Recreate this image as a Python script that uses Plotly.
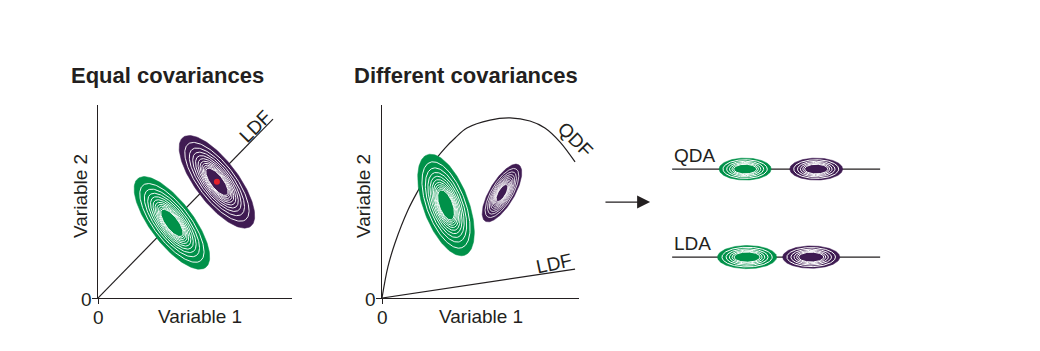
import numpy as np
import plotly.graph_objects as go

W, H = 1040, 351

# ---------------- data ----------------
# Panel A: equal covariances (axis units 0-10)
ldf_a_x = [0, 9.02]
ldf_a_y = [0, 9.27]
ell_a_cx = [3.81, 6.13]
ell_a_cy = [3.89, 6.02]
ell_a_major = [2.89, 2.89]
ell_a_minor = [1.10, 1.10]
ell_a_angle = [-53, -53]
red_dot_x = [6.13]
red_dot_y = [6.02]

# Panel B: different covariances
qdf_x = [0, 0.30, 0.66, 1.32, 1.93, 2.59, 3.20, 3.71, 4.31, 5.48, 6.50, 7.51, 8.27, 9.04, 9.80]
qdf_y = [0, 1.61, 2.85, 4.56, 5.75, 6.99, 7.77, 8.29, 8.81, 9.22, 9.33, 9.17, 8.81, 8.08, 7.05]
ldf_b_x = [0, 9.80]
ldf_b_y = [0, 1.50]
ell_b_cx = [3.25, 6.09]
ell_b_cy = [4.82, 5.44]
ell_b_major = [2.77, 1.69]
ell_b_minor = [1.15, 0.63]
ell_b_angle = [-70, 60]

# Panel C: schematic
row_labels = ["QDA", "LDA"]
row_y = [6.68, 2.12]
row_line_x = [4.15, 14.92]
small_cx = [[7.93, 11.61], [8.03, 11.35]]
small_rx = [[1.35, 1.37], [1.53, 1.48]]
small_ry = [[0.57, 0.57], [0.60, 0.58]]
arrow_x = [0.62, 3.01]
arrow_y = [4.97, 4.97]

GREEN = "#009149"
PURPLE = "#3f1b52"
INK = "#231f20"
RED = "#e3202b"
FONT = "Liberation Sans, Arial, sans-serif"

ring_scales = [0.85, 0.73, 0.64, 0.565, 0.50, 0.445, 0.40, 0.36, 0.325, 0.295]
core_scale = 0.24
small_ring_scales = [0.85, 0.71, 0.60, 0.51, 0.44]
small_core = (0.32, 0.28)


def ellipse(cx, cy, a, b, ang, s=1.0, n=160):
    t = np.linspace(0, 2 * np.pi, n)
    th = np.deg2rad(ang)
    x = cx + s * (a * np.cos(t) * np.cos(th) - b * np.sin(t) * np.sin(th))
    y = cy + s * (a * np.cos(t) * np.sin(th) + b * np.sin(t) * np.cos(th))
    return x, y


fig = go.Figure()


def add_line(x, y, xa, ya, shape="linear"):
    fig.add_trace(go.Scatter(x=x, y=y, mode="lines", xaxis=xa, yaxis=ya,
                             line=dict(color=INK, width=1.2, shape=shape, smoothing=1.0),
                             hoverinfo="skip", showlegend=False))


def add_contour(cx, cy, a, b, ang, color, xa, ya, lw):
    x, y = ellipse(cx, cy, a, b, ang)
    fig.add_trace(go.Scatter(x=x, y=y, mode="lines", fill="toself", fillcolor=color,
                             line=dict(color=color, width=0.5), xaxis=xa, yaxis=ya,
                             hoverinfo="skip", showlegend=False))
    for s in ring_scales:
        x, y = ellipse(cx, cy, a, b, ang, s)
        fig.add_trace(go.Scatter(x=x, y=y, mode="lines", line=dict(color="white", width=lw),
                                 xaxis=xa, yaxis=ya, hoverinfo="skip", showlegend=False))
    x, y = ellipse(cx, cy, a, b, ang, core_scale)
    fig.add_trace(go.Scatter(x=x, y=y, mode="lines", fill="toself", fillcolor=color,
                             line=dict(color=color, width=0.5), xaxis=xa, yaxis=ya,
                             hoverinfo="skip", showlegend=False))


# Panel A
add_line(ldf_a_x, ldf_a_y, "x", "y")
for cx, cy, a, b, ang, col in zip(ell_a_cx, ell_a_cy, ell_a_major, ell_a_minor, ell_a_angle, [GREEN, PURPLE]):
    add_contour(cx, cy, a, b, ang, col, "x", "y", 0.95)
fig.add_trace(go.Scatter(x=red_dot_x, y=red_dot_y, mode="markers", marker=dict(color=RED, size=6),
                         xaxis="x", yaxis="y", hoverinfo="skip", showlegend=False))

# Panel B
add_line(qdf_x, qdf_y, "x2", "y2", shape="spline")
add_line(ldf_b_x, ldf_b_y, "x2", "y2")
for cx, cy, a, b, ang, col, lw in zip(ell_b_cx, ell_b_cy, ell_b_major, ell_b_minor, ell_b_angle,
                                      [GREEN, PURPLE], [0.95, 0.8]):
    add_contour(cx, cy, a, b, ang, col, "x2", "y2", lw)

# Panel C
for ry, cxs, rxs, rys in zip(row_y, small_cx, small_rx, small_ry):
    add_line(row_line_x, [ry, ry], "x3", "y3")
    for cx, rx, rr, col in zip(cxs, rxs, rys, [GREEN, PURPLE]):
        x, y = ellipse(cx, ry, rx, rr, 0)
        fig.add_trace(go.Scatter(x=x, y=y, mode="lines", fill="toself", fillcolor=col,
                                 line=dict(color=col, width=0.5), xaxis="x3", yaxis="y3",
                                 hoverinfo="skip", showlegend=False))
        for s in small_ring_scales:
            x, y = ellipse(cx, ry, rx, rr, 0, s)
            fig.add_trace(go.Scatter(x=x, y=y, mode="lines", line=dict(color="white", width=1.0),
                                     xaxis="x3", yaxis="y3", hoverinfo="skip", showlegend=False))
        x, y = ellipse(cx, ry, rx * small_core[0], rr * small_core[1], 0)
        fig.add_trace(go.Scatter(x=x, y=y, mode="lines", fill="toself", fillcolor=col,
                                 line=dict(color=col, width=0.5), xaxis="x3", yaxis="y3",
                                 hoverinfo="skip", showlegend=False))


def px(v):
    return v / W


def py(v):
    return 1 - v / H


ydom = [py(298), py(105)]
axis_common = dict(range=[0, 10], showgrid=False, zeroline=False, showticklabels=False,
                   showline=True, linecolor=INK, linewidth=1.2, ticks="outside",
                   tickvals=[0], ticklen=5, tickcolor=INK, tickwidth=1.2, fixedrange=True)
hidden = dict(visible=False, showgrid=False, zeroline=False, fixedrange=True)

fig.update_layout(
    width=W, height=H, margin=dict(l=0, r=0, t=0, b=0),
    paper_bgcolor="white", plot_bgcolor="rgba(0,0,0,0)",
    xaxis=dict(domain=[px(98), px(292)], anchor="y", **axis_common),
    yaxis=dict(domain=ydom, anchor="x", **axis_common),
    xaxis2=dict(domain=[px(382), px(579)], anchor="y2", **axis_common),
    yaxis2=dict(domain=ydom, anchor="x2", **axis_common),
    xaxis3=dict(domain=[px(592), px(901)], anchor="y3", range=[0, 16], **hidden),
    yaxis3=dict(domain=ydom, anchor="x3", range=[0, 10], **hidden),
    font=dict(family=FONT, color=INK, size=19),
)

ann = []


def text(t, x, y, xref="paper", yref="paper", size=19, bold=False, angle=0, xanchor="center"):
    ann.append(dict(text=f"<b>{t}</b>" if bold else t, x=x, y=y, xref=xref, yref=yref,
                    showarrow=False, textangle=angle, xanchor=xanchor, yanchor="middle",
                    font=dict(family=FONT, size=size, color=INK)))


# titles
text("Equal covariances", px(69), py(76), size=22, bold=True, xanchor="left")
text("Different covariances", px(352), py(76), size=22, bold=True, xanchor="left")
# axis labels
for xc, yc in [(200, 316), (481, 316)]:
    text("Variable 1", px(xc), py(yc))
for xc in [80, 363]:
    text("Variable 2", px(xc), py(196), angle=-90)
for x0 in [98, 382]:
    text("0", px(x0), py(317))
    text("0", px(x0 - 12), py(299))
# curve labels
text("LDF", 8.09, 8.91, "x", "y", angle=-45)
text("QDF", 9.80, 8.19, "x2", "y2", angle=45)
text("LDF", 8.73, 1.81, "x2", "y2", angle=-12)
for lab, ry in zip(row_labels, row_y):
    text(lab, row_line_x[0], ry + 0.72, "x3", "y3", xanchor="left")

ann.append(dict(x=arrow_x[1], y=arrow_y[1], ax=arrow_x[0], ay=arrow_y[0], xref="x3", yref="y3",
                axref="x3", ayref="y3", showarrow=True, arrowhead=2, arrowsize=2.0,
                arrowwidth=1.3, arrowcolor=INK, text=""))

fig.update_layout(annotations=ann)
fig.write_html("out.html")
